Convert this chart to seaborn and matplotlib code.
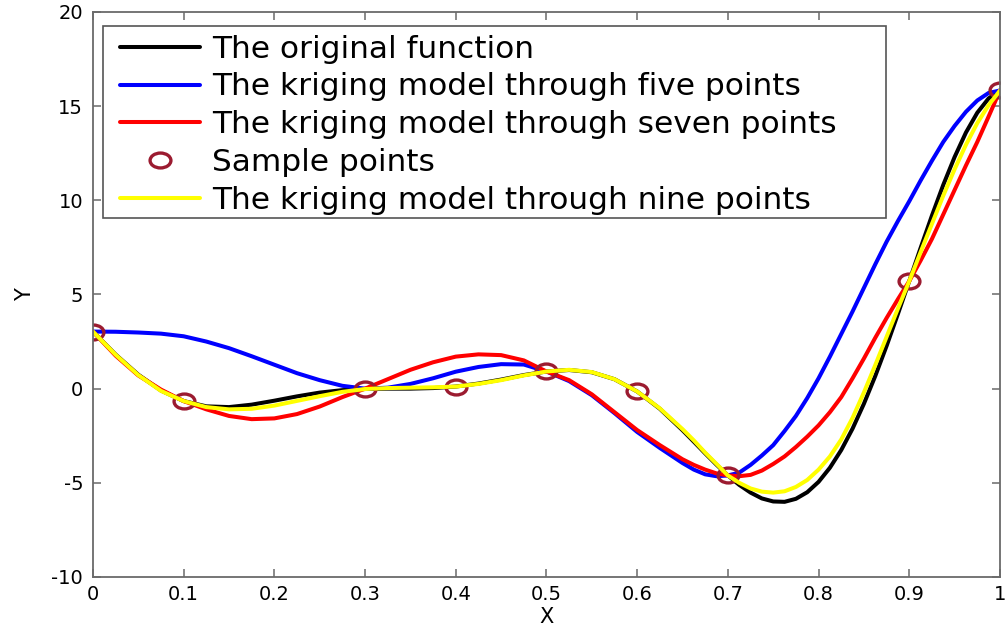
import numpy as np
import pandas as pd
import matplotlib
matplotlib.use("Agg")
import matplotlib.pyplot as plt
from matplotlib.path import Path
from matplotlib.patches import Rectangle
from matplotlib.transforms import Affine2D
import seaborn as sns

# ---------------- data ----------------
x_grid = [0.000, 0.025, 0.050, 0.075, 0.100, 0.125, 0.150, 0.175, 0.200, 0.225,
          0.250, 0.275, 0.300, 0.325, 0.350, 0.375, 0.400, 0.425, 0.450, 0.475,
          0.500, 0.525, 0.550, 0.575, 0.600, 0.625, 0.650, 0.6625, 0.675, 0.6875,
          0.700, 0.7125, 0.725, 0.7375, 0.750, 0.7625, 0.775, 0.7875, 0.800, 0.8125,
          0.825, 0.8375, 0.850, 0.8625, 0.875, 0.8875, 0.900, 0.9125, 0.925, 0.9375,
          0.950, 0.9625, 0.975, 0.9875, 1.000]

original = [3.03, 1.81, 0.74, -0.10, -0.66, -0.94, -0.98, -0.85, -0.64, -0.41,
            -0.21, -0.08, -0.02, 0.00, 0.00, 0.03, 0.11, 0.27, 0.48, 0.72,
            0.91, 0.99, 0.87, 0.50, -0.15, -1.07, -2.21, -2.82, -3.44, -4.04,
            -4.61, -5.11, -5.52, -5.83, -5.99, -6.01, -5.85, -5.50, -4.95, -4.20,
            -3.26, -2.12, -0.80, 0.67, 2.27, 3.97, 5.71, 7.47, 9.19, 10.82,
            12.30, 13.60, 14.65, 15.41, 15.83]

kriging_five = [3.03, 3.02, 2.98, 2.92, 2.78, 2.50, 2.15, 1.72, 1.27, 0.82,
                0.45, 0.15, 0.00, 0.05, 0.25, 0.55, 0.90, 1.15, 1.30, 1.28,
                0.91, 0.40, -0.35, -1.30, -2.30, -3.15, -3.95, -4.30, -4.55, -4.65,
                -4.61, -4.46, -4.05, -3.55, -3.00, -2.25, -1.45, -0.50, 0.55, 1.70,
                2.90, 4.10, 5.35, 6.60, 7.80, 8.90, 9.95, 11.05, 12.10, 13.10,
                13.95, 14.70, 15.30, 15.70, 15.83]

kriging_seven = [3.03, 1.75, 0.70, -0.05, -0.66, -1.10, -1.45, -1.62, -1.58, -1.35,
                 -0.95, -0.45, 0.00, 0.50, 1.00, 1.40, 1.70, 1.82, 1.78, 1.50,
                 0.91, 0.45, -0.30, -1.25, -2.20, -3.00, -3.75, -4.05, -4.30, -4.50,
                 -4.61, -4.65, -4.58, -4.35, -4.00, -3.60, -3.10, -2.55, -1.95, -1.25,
                 -0.45, 0.55, 1.60, 2.70, 3.75, 4.75, 5.71, 6.80, 7.95, 9.25,
                 10.55, 11.85, 13.10, 14.45, 15.83]

kriging_nine = [3.03, 1.80, 0.72, -0.12, -0.66, -0.98, -1.10, -1.07, -0.90, -0.65,
                -0.40, -0.17, -0.02, 0.03, 0.05, 0.07, 0.11, 0.25, 0.45, 0.70,
                0.91, 1.00, 0.88, 0.50, -0.15, -1.05, -2.15, -2.75, -3.40, -4.00,
                -4.61, -5.00, -5.30, -5.47, -5.52, -5.45, -5.22, -4.85, -4.30, -3.60,
                -2.70, -1.55, -0.20, 1.25, 2.75, 4.25, 5.71, 7.25, 8.75, 10.25,
                11.65, 12.95, 14.10, 15.05, 15.83]

sample_x = [0.0, 0.1, 0.3, 0.4, 0.5, 0.6, 0.7, 0.9, 1.0]
sample_y = [3.03, -0.66, -0.02, 0.11, 0.91, -0.15, -4.61, 5.71, 15.83]

x_ticks = [0, 0.1, 0.2, 0.3, 0.4, 0.5, 0.6, 0.7, 0.8, 0.9, 1]
x_tick_labels = ["0", "0.1", "0.2", "0.3", "0.4", "0.5", "0.6", "0.7", "0.8", "0.9", "1"]
y_ticks = [-10, -5, 0, 5, 10, 15, 20]

labels = ["The original function",
          "The kriging model through five points",
          "The kriging model through seven points",
          "Sample points",
          "The kriging model through nine points"]

# ---------------- style ----------------
sns.set_theme(style="white")
plt.rcParams["font.family"] = ["DejaVu Sans"]
plt.rcParams["axes.unicode_minus"] = False
plt.rcParams["text.color"] = "black"
plt.rcParams["axes.labelcolor"] = "black"
spine_col = "#6a6a6a"

fig = plt.figure(figsize=(10.05, 6.29), dpi=100)
ax = fig.add_axes([0.0925, 0.0827, 0.9025, 0.8983])

# slightly wide elliptical ring marker (the reference is stretched horizontally)
ellipse = Path.unit_circle().transformed(Affine2D().scale(1.4, 1.0))

lw = 2.9
sns.lineplot(x=x_grid, y=original, ax=ax, color="black", lw=lw, label=labels[0])
sns.lineplot(x=x_grid, y=kriging_five, ax=ax, color="#0000ff", lw=lw, label=labels[1])
sns.lineplot(x=x_grid, y=kriging_seven, ax=ax, color="#ff0000", lw=lw, label=labels[2])
sns.lineplot(x=sample_x, y=sample_y, ax=ax, linestyle="none", marker=ellipse,
             markersize=15, markerfacecolor="none", markeredgecolor="#9b1b30",
             markeredgewidth=2.4, label=labels[3])
sns.lineplot(x=x_grid, y=kriging_nine, ax=ax, color="#ffff00", lw=lw, label=labels[4])

ax.set_xlim(0, 1)
ax.set_ylim(-10, 20)
ax.set_xticks(x_ticks)
ax.set_xticklabels(x_tick_labels)
ax.set_yticks(y_ticks)

for s in ax.spines.values():
    s.set_visible(True)
    s.set_color(spine_col)
    s.set_linewidth(1.3)

ax.tick_params(axis="both", which="both", direction="in", length=6, width=1.1,
               color=spine_col, top=True, right=True, bottom=True, left=True,
               labelsize=14, labelcolor="black")
ax.tick_params(axis="x", pad=6)
ax.tick_params(axis="y", pad=7)

ax.set_xlabel("X", fontsize=15, labelpad=2, color="black")
ax.set_ylabel("Y", fontsize=15, labelpad=12, color="black")

# legend: entries without frame, frame drawn as a box at the reference position
leg = ax.legend(loc="upper left", bbox_to_anchor=(0.0298, 0.960), fontsize=22.5,
                frameon=False, handlelength=2.55, handletextpad=0.4,
                labelspacing=0.285, borderpad=0.0, borderaxespad=0.0)
for t in leg.get_texts():
    t.set_color("black")
for line in leg.get_lines():
    line.set_linewidth(2.9)
box = Rectangle((0.011, 0.635), 0.863, 0.340, transform=ax.transAxes,
                facecolor="white", edgecolor="#555555", linewidth=1.2, zorder=4.5)
ax.add_patch(box)
leg.set_zorder(5)

fig.savefig("out.png", dpi=100)
